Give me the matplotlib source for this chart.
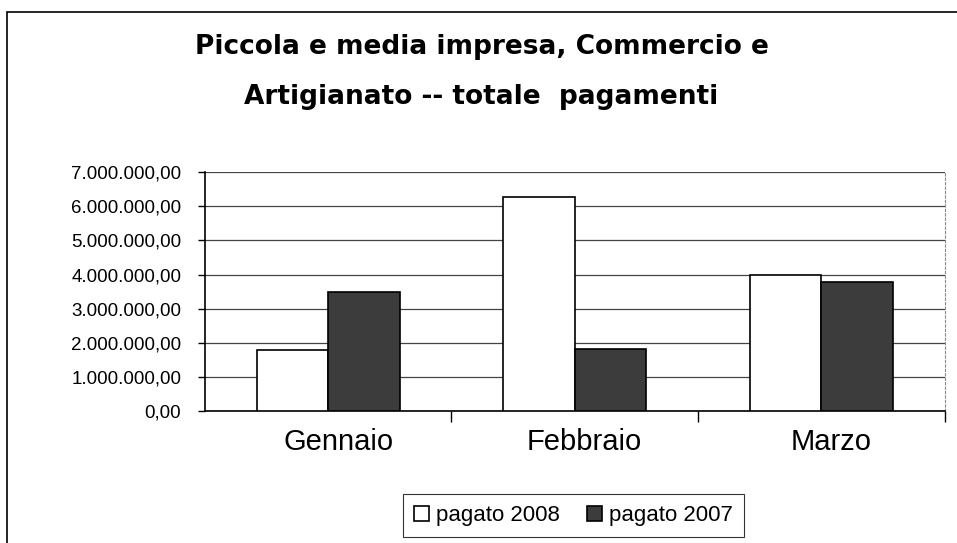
import matplotlib.pyplot as plt
import matplotlib.transforms as mtransforms
from matplotlib.ticker import FuncFormatter, FixedLocator
from matplotlib.patches import Rectangle
import numpy as np

plt.switch_backend('Agg')
plt.rcParams['font.family'] = ['Liberation Sans', 'DejaVu Sans']

# dati
mesi = ['Gennaio', 'Febbraio', 'Marzo']
pagato_2008 = [1780000, 6260000, 4000000]
pagato_2007 = [3480000, 1820000, 3770000]
serie = ['pagato 2008', 'pagato 2007']


def formato_it(v, pos=None):
    s = f"{v:,.2f}"
    return s.replace(',', 'X').replace('.', ',').replace('X', '.')


fig = plt.figure(figsize=(9.57, 5.43), dpi=100)
ax = fig.add_axes([0.214, 0.243, 0.773, 0.44])

x = np.arange(len(mesi))
w = 0.29
ax.bar(x - w / 2, pagato_2008, w, color='white', edgecolor='black', linewidth=1.2,
       label=serie[0], zorder=3)
ax.bar(x + w / 2, pagato_2007, w, color='#3c3c3c', edgecolor='black', linewidth=1.2,
       label=serie[1], zorder=3)

ax.set_xlim(-0.5, 2.5)
ax.set_ylim(0, 7000000)
ax.set_yticks(np.arange(0, 7000001, 1000000))
ax.yaxis.set_major_formatter(FuncFormatter(formato_it))
ax.grid(axis='y', color='#444444', linewidth=0.9, zorder=0)

ax.set_xticks(x)
ax.set_xticklabels(mesi, fontsize=21)
ax.xaxis.set_minor_locator(FixedLocator([0.5, 1.5, 2.5]))
ax.tick_params(axis='x', which='major', length=0, pad=12)
ax.tick_params(axis='x', which='minor', length=8, width=1, direction='out')
ax.tick_params(axis='y', labelsize=13.5, length=5, width=1, pad=12, direction='out')

# etichette mesi un po' spostate a destra come nell'originale
off = mtransforms.ScaledTranslation(10 / 100, 0, fig.dpi_scale_trans)
for lab in ax.get_xticklabels():
    lab.set_transform(lab.get_transform() + off)

ax.spines['top'].set_visible(False)
ax.spines['right'].set_color('#888888')
ax.spines['right'].set_linestyle((0, (2, 2)))
ax.spines['left'].set_linewidth(1.2)
ax.spines['bottom'].set_linewidth(1.2)

fig.text(0.504, 0.913, 'Piccola e media impresa, Commercio e', ha='center', va='center',
         fontsize=19, fontweight='bold', family='DejaVu Sans')
fig.text(0.503, 0.822, 'Artigianato -- totale  pagamenti', ha='center', va='center',
         fontsize=19, fontweight='bold', family='DejaVu Sans')

leg = fig.legend(loc='center', bbox_to_anchor=(0.599, 0.05), ncol=2, fontsize=16,
                 frameon=True, fancybox=False, edgecolor='black', handlelength=0.7,
                 handleheight=0.7, handletextpad=0.3, columnspacing=1.2,
                 borderpad=0.5)
leg.get_frame().set_linewidth(0.8)

# cornice del grafico
fig.add_artist(Rectangle((0.007, -0.05), 1.2, 1.028, transform=fig.transFigure,
                         fill=False, edgecolor='black', linewidth=1.2))

fig.savefig('out.png', dpi=100)
